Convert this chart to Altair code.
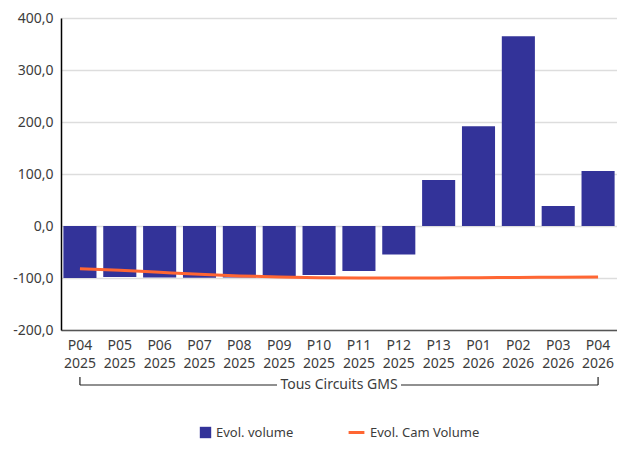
import altair as alt
import pandas as pd

periods = ["P04 2025", "P05 2025", "P06 2025", "P07 2025", "P08 2025", "P09 2025", "P10 2025",
           "P11 2025", "P12 2025", "P13 2025", "P01 2026", "P02 2026", "P03 2026", "P04 2026"]
evol_volume = [-100, -98, -99, -99.5, -99, -98, -94, -86.5, -55, 88.5, 192, 365, 38.5, 106]
evol_cam_volume = [-82, -85, -89, -93, -96, -98, -99.5, -100, -100, -100, -99.5, -99, -98.5, -98]
group_label = "Tous Circuits GMS"

W, H = 556, 312
FONT = "Noto Sans"
TXT = "#3c3c3c"

df = pd.DataFrame({"period": periods, "vol": evol_volume, "cam": evol_cam_volume,
                   "s1": "Evol. volume", "s2": "Evol. Cam Volume"})
bracket = pd.DataFrame({"a": [periods[0]], "b": [periods[-1]], "t": [group_label]})

xscale = alt.Scale(domain=periods, paddingInner=0.17, paddingOuter=0.06)
xenc = alt.X("period:N", scale=xscale, title=None,
             axis=alt.Axis(labelExpr="split(datum.label, ' ')", labelAngle=0, labelFontSize=14,
                           labelColor=TXT, labelFont=FONT, labelLineHeight=18, labelPadding=8,
                           ticks=False, domainColor="#555555", domainWidth=1.5, grid=False))
yscale = alt.Scale(domain=[-200, 400])

bars = alt.Chart(df).mark_bar(color="#333399").encode(
    x=xenc,
    y=alt.Y("vol:Q", scale=yscale, title=None,
            axis=alt.Axis(values=[-200, -100, 0, 100, 200, 300, 400],
                          labelExpr="(datum.value < 0 ? '-' : '') + replace(format(abs(datum.value), '.1f'), '.', ',')",
                          labelFontSize=14, labelColor=TXT, labelFont=FONT, labelPadding=8,
                          ticks=False, domainColor="#000000", domainWidth=1.5,
                          gridColor="#dddddd", gridWidth=1.5)),
    color=alt.Color("s1:N", scale=alt.Scale(range=["#333399"]), title=None,
                    legend=alt.Legend(orient="none", legendX=138, legendY=408, symbolType="square",
                                      symbolSize=130, labelFontSize=13, labelFont=FONT,
                                      labelColor=TXT, symbolStrokeWidth=0)),
)

line = alt.Chart(df).mark_line(strokeWidth=3, interpolate="monotone").encode(
    x=alt.X("period:N", scale=xscale),
    y=alt.Y("cam:Q", scale=yscale),
    stroke=alt.Stroke("s2:N", scale=alt.Scale(range=["#FF6633"]), title=None,
                      legend=alt.Legend(orient="none", legendX=286, legendY=405, symbolType="stroke",
                                        symbolStrokeWidth=3, symbolSize=250, labelFontSize=13,
                                        labelFont=FONT, labelColor=TXT)),
)

yb = H + 55
left_rule = alt.Chart(bracket).mark_rule(color="#222222", strokeWidth=1.2).encode(
    x=alt.X("a:N", scale=xscale), x2=alt.value(W / 2 - 62), y=alt.value(yb))
right_rule = alt.Chart(bracket).mark_rule(color="#222222", strokeWidth=1.2).encode(
    x=alt.X("b:N", scale=xscale), x2=alt.value(W / 2 + 62), y=alt.value(yb))
tick_a = alt.Chart(bracket).mark_rule(color="#222222", strokeWidth=1.2).encode(
    x=alt.X("a:N", scale=xscale), y=alt.value(yb - 8), y2=alt.value(yb))
tick_b = alt.Chart(bracket).mark_rule(color="#222222", strokeWidth=1.2).encode(
    x=alt.X("b:N", scale=xscale), y=alt.value(yb - 8), y2=alt.value(yb))
label = alt.Chart(bracket).mark_text(fontSize=14, font=FONT, color=TXT, baseline="middle").encode(
    x=alt.value(W / 2), y=alt.value(yb), text="t:N")

chart = alt.layer(bars, line, left_rule, right_rule, tick_a, tick_b, label).resolve_scale(
    color="independent", stroke="independent"
).properties(
    width=W, height=H,
    autosize=alt.AutoSizeParams(type="none"),
    padding={"left": 53, "top": 10, "right": 0, "bottom": 110},
).configure_view(stroke=None)

chart.save("out.html", embed_options={"renderer": "svg", "actions": False})
